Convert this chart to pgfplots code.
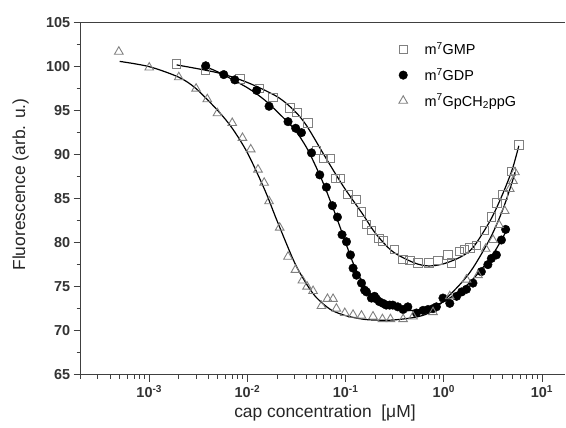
\documentclass[border=0pt]{standalone}
\usepackage{fontspec}
\setmainfont{Liberation Sans}
\usepackage{pgfplots}
\pgfplotsset{compat=1.18}
\begin{document}
\begin{tikzpicture}
\begin{axis}[
  scale only axis,
  width=485.3bp, height=352.3bp,
  xmode=log, xmin=2e-4, xmax=17.3,
  ymin=65, ymax=105,
  ytick={65,70,...,105},
  minor y tick num=1,
  axis x line*=box, axis y line*=left,
  xtick pos=left, ytick pos=left,
  tick align=outside,
  major tick length=7bp, minor tick length=4bp,
  axis line style={line width=1.2bp, draw=black!75},
  every tick/.style={line width=1bp, black!75},
  tick label style={font=\fontsize{14.5}{16}\selectfont\bfseries, text=black!80},
  /pgf/number format/assume math mode=true,
  xticklabel={\pgfmathtruncatemacro\ex{round(\tick/ln(10))}10\textsuperscript{\ex}},
  xlabel={cap concentration\ \ [μM]},
  ylabel={Fluorescence (arb. u.)},
  label style={font=\fontsize{17.5}{20}\selectfont, text=black!85},
  xlabel style={at={(axis description cs:0.504,-0.108)}, anchor=center},
  ylabel style={at={(axis description cs:-0.124,0.54)}, anchor=center},
  legend style={draw=none, fill=none, at={(axis description cs:0.65,0.955)}, anchor=north west,
    font=\fontsize{14.5}{16}\selectfont, row sep=8bp, cells={anchor=west},
    /tikz/every odd column/.append style={column sep=15bp}},
]
% fitted curves
\addplot[black, line width=1.2bp, smooth, forget plot] coordinates {
(1.9e-3,100.2)(5e-3,99.3)(1e-2,98.2)(2e-2,96.6)(3e-2,95.0)(4e-2,93.3)(6e-2,90.0)(8e-2,87.7)
(0.1,86.0)(0.15,83.2)(0.2,81.1)(0.3,79.0)(0.5,77.7)(0.7,77.35)(1.0,77.6)(1.5,78.4)(2.0,79.5)
(3.0,82.6)(4.0,85.6)(5.0,88.4)(5.8,91.0)};
\addplot[black, line width=1.2bp, smooth, forget plot] coordinates {
(3.7e-3,100.0)(5e-3,99.4)(1e-2,97.6)(1.5e-2,96.2)(2e-2,94.9)(3e-2,92.9)(4e-2,90.8)(5e-2,88.6)
(6e-2,86.6)(7e-2,84.7)(8e-2,83.0)(0.1,80.0)(0.12,77.6)(0.15,75.4)(0.2,73.6)(0.3,72.6)(0.4,72.3)
(0.5,72.3)(0.7,72.6)(1.0,73.3)(1.5,74.6)(2.0,75.9)(3.0,78.3)(4.0,80.6)(4.5,81.8)};
\addplot[black, line width=1.2bp, smooth, forget plot] coordinates {
(5e-4,100.6)(1e-3,100.0)(2e-3,98.8)(3e-3,97.5)(5e-3,95.0)(7e-3,93.0)(1e-2,90.2)(1.5e-2,86.0)
(2e-2,82.5)(3e-2,77.8)(4e-2,75.3)(5e-2,73.8)(7e-2,72.4)(0.1,71.7)(0.15,71.3)(0.2,71.2)(0.3,71.2)
(0.5,71.5)(0.7,72.0)(1.0,73.4)(1.5,75.4)(2.0,77.2)(3.0,80.6)(4.0,83.8)(5.0,87.0)(5.3,88.0)};
% data
\addplot[only marks, mark=square, mark size=4.2bp, draw=black!50, mark options={line width=0.9bp}] coordinates {
(1.89e-3,100.3)(3.76e-3,99.6)(8.4e-3,98.6)(1.33e-2,97.5)(1.82e-2,96.5)(2.7e-2,95.3)(3.2e-2,94.8)
(4.14e-2,93.6)(5.04e-2,90.5)(5.98e-2,89.6)(7.0e-2,89.6)(7.93e-2,87.3)(8.9e-2,87.3)(0.106,85.5)
(0.127,84.9)(0.145,83.5)(0.163,82.1)(0.183,81.4)(0.219,80.5)(0.24,80.2)(0.316,79.2)(0.385,78.1)
(0.45,78.0)(0.546,77.7)(0.706,77.7)(0.873,78.0)(1.1,78.6)(1.2,77.7)(1.45,79.0)(1.63,79.2)
(1.84,79.4)(2.15,79.7)(2.6,81.4)(3.05,82.9)(3.48,84.5)(4.01,85.4)(4.88,88.1)(5.8,91.1)};
\addlegendentry{m\textsuperscript{7}GMP}
\addplot[only marks, mark=*, mark size=4.3bp, black] coordinates {
(3.76e-3,100.1)(5.74e-3,99.1)(7.43e-3,98.5)(1.24e-2,97.3)(1.66e-2,95.5)(2.59e-2,93.75)(3.1e-2,93.0)
(3.55e-2,92.5)(4.49e-2,90.2)(5.45e-2,87.7)(6.37e-2,86.3)(7.33e-2,84.2)(8.25e-2,82.9)(9.19e-2,80.9)
(0.102,80.1)(0.112,78.6)(0.119,77.1)(0.129,76.3)(0.145,75.4)(0.156,74.6)(0.163,74.4)(0.183,73.7)
(0.197,73.9)(0.206,73.6)(0.22,73.3)(0.24,73.1)(0.259,72.9)(0.281,72.9)(0.302,72.9)(0.34,72.7)
(0.385,72.4)(0.43,72.7)(0.526,72.0)(0.614,72.3)(0.69,72.4)(0.776,72.5)(0.84,72.7)(0.98,73.7)
(1.15,73.1)(1.35,73.9)(1.52,74.4)(1.70,74.7)(1.98,75.4)(2.41,76.7)(2.81,77.5)(3.05,78.2)
(3.43,78.6)(3.86,80.3)(4.26,81.5)};
\addlegendentry{m\textsuperscript{7}GDP}
\addplot[only marks, mark=triangle, mark size=5bp, draw=black!50, mark options={line width=0.9bp}] coordinates {
(4.9e-4,101.7)(1.0e-3,99.9)(2.0e-3,98.8)(3.0e-3,97.5)(3.9e-3,96.3)(4.95e-3,94.7)(7.0e-3,93.6)
(8.9e-3,91.9)(1.08e-2,90.6)(1.28e-2,88.3)(1.48e-2,86.8)(1.66e-2,84.7)(2.13e-2,81.7)(2.59e-2,78.4)
(3.08e-2,76.9)(3.63e-2,75.7)(4.05e-2,75.0)(4.66e-2,74.5)(5.67e-2,72.8)(6.53e-2,73.6)(7.45e-2,73.6)
(8.05e-2,72.5)(9.8e-2,72.0)(0.119,71.8)(0.145,71.7)(0.19,71.6)(0.237,71.3)(0.286,71.3)(0.385,71.3)
(0.486,71.6)(0.776,72.1)(1.15,73.9)(1.70,75.8)(2.23,76.3)(2.67,79.3)(3.17,80.3)(3.65,82.0)
(4.17,83.6)(4.69,86.1)(5.07,87.0)(5.3,88.0)};
\addlegendentry{m\textsuperscript{7}GpCH\textsubscript{2}ppG}
\end{axis}
\path ([xshift=-80.7bp,yshift=-53bp]current axis.south west) rectangle ([yshift=22.7bp]current axis.north east);
\end{tikzpicture}
\end{document}
